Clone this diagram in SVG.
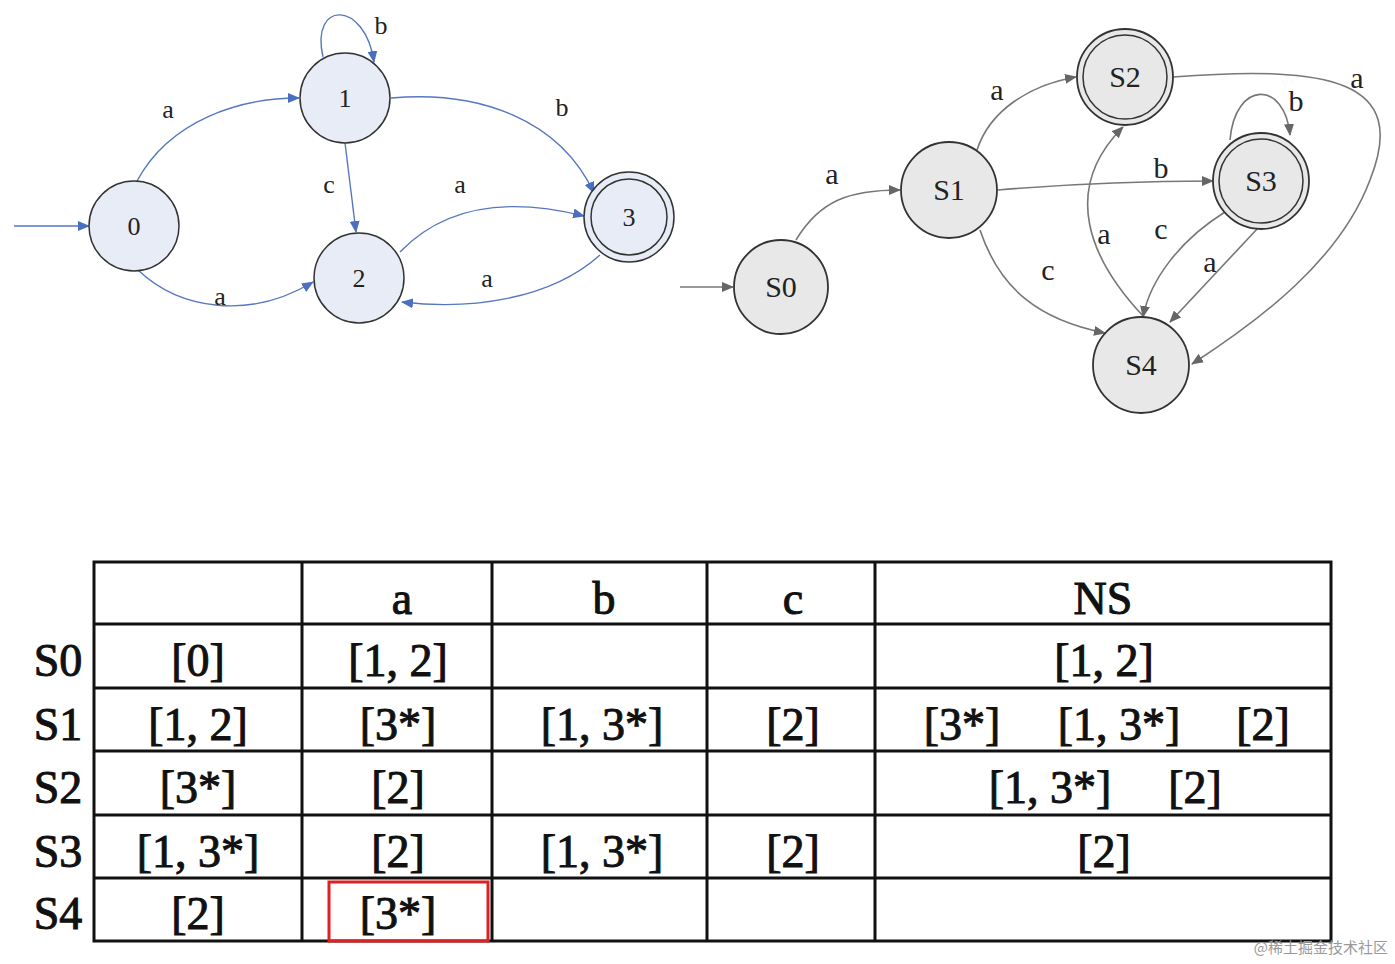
<svg xmlns="http://www.w3.org/2000/svg" width="1395" height="964" viewBox="0 0 1395 964">
<style>
.nb{fill:#e8ecf6;stroke:#333;stroke-width:1.5}
.ng{fill:#e8e8e8;stroke:#333;stroke-width:1.8}
.inner{fill:none;stroke:#333;stroke-width:1.5}
.eb{fill:none;stroke:#5577c0;stroke-width:1.4;marker-end:url(#ab)}
.eg{fill:none;stroke:#777;stroke-width:1.6;marker-end:url(#ag)}
text{font-family:"Liberation Serif","Times New Roman","DejaVu Serif",serif}
.lb{font-size:26px;fill:#222;text-anchor:middle}
.lg{font-size:30px;fill:#222;text-anchor:middle}
.t{font-size:46px;fill:#111;stroke:#111;stroke-width:1;text-anchor:middle}
.grid{stroke:#111;stroke-width:3;fill:none}
</style>
<defs>
<marker id="ab" markerWidth="12" markerHeight="10" refX="11" refY="5" orient="auto" markerUnits="userSpaceOnUse"><path d="M0,0 L12,5 L0,10 Z" fill="#4a6fc0"/></marker>
<marker id="ag" markerWidth="12" markerHeight="10" refX="11" refY="5" orient="auto" markerUnits="userSpaceOnUse"><path d="M0,0 L12,5 L0,10 Z" fill="#666"/></marker>
</defs>
<rect width="1395" height="964" fill="#fff"/>
<g id="connectors">
<path class="eb" d="M14,226 L89,226"/>
<path class="eb" d="M137,181 C170,120 240,98 299,98"/>
<path class="eb" d="M138,270 C180,310 250,320 313,282"/>
<path class="eb" d="M323,57 C310,0 365,0 374,62"/>
<path class="eb" d="M391,98 C480,90 560,120 594,193"/>
<path class="eb" d="M345,143 L356,232"/>
<path class="eb" d="M400,252 C450,200 520,200 584,216"/>
<path class="eb" d="M600,255 C550,300 470,310 402,302"/>
<path class="eg" d="M680,287 L733,287"/>
<path class="eg" d="M796,240 C820,200 850,190 900,190"/>
<path class="eg" d="M977,150 C990,110 1030,85 1076,77"/>
<path class="eg" d="M998,190 C1080,183 1150,181 1213,181"/>
<path class="eg" d="M980,230 C1000,290 1040,320 1105,333"/>
<path class="eg" d="M1144,317 C1090,260 1060,190 1123,127"/>
<path class="eg" d="M1230,140 C1235,80 1285,80 1290,135"/>
<path class="eg" d="M1225,212 C1180,240 1150,280 1143,317"/>
<path class="eg" d="M1258,228 L1170,322"/>
<path class="eg" d="M1173,77 C1330,65 1410,80 1370,180 C1340,260 1260,320 1192,364"/>
</g>
<g id="edge-labels">
<text class="lb" x="168" y="118">a</text>
<text class="lb" x="220" y="305">a</text>
<text class="lb" x="381" y="34">b</text>
<text class="lb" x="562" y="116">b</text>
<text class="lb" x="329" y="193">c</text>
<text class="lb" x="460" y="193">a</text>
<text class="lb" x="487" y="287">a</text>
<text class="lg" x="832" y="184">a</text>
<text class="lg" x="997" y="100">a</text>
<text class="lg" x="1161" y="178">b</text>
<text class="lg" x="1048" y="280">c</text>
<text class="lg" x="1104" y="244">a</text>
<text class="lg" x="1296" y="111">b</text>
<text class="lg" x="1161" y="239">c</text>
<text class="lg" x="1210" y="272">a</text>
<text class="lg" x="1357" y="88">a</text>
</g>
<g id="n0"><circle class="nb" cx="134" cy="226" r="45"/><text class="lb" x="134" y="235">0</text></g>
<g id="n1"><circle class="nb" cx="345" cy="98" r="45"/><text class="lb" x="345" y="107">1</text></g>
<g id="n2"><circle class="nb" cx="359" cy="278" r="45"/><text class="lb" x="359" y="287">2</text></g>
<g id="n3"><circle class="nb" cx="629" cy="217" r="45"/><circle class="inner" cx="629" cy="217" r="38"/><text class="lb" x="629" y="226">3</text></g>
<g id="S0"><circle class="ng" cx="781" cy="287" r="47"/><text class="lg" x="781" y="297">S0</text></g>
<g id="S1"><circle class="ng" cx="949" cy="190" r="48"/><text class="lg" x="949" y="200">S1</text></g>
<g id="S2"><circle class="ng" cx="1125" cy="77" r="48"/><circle class="inner" cx="1125" cy="77" r="42"/><text class="lg" x="1125" y="87">S2</text></g>
<g id="S3"><circle class="ng" cx="1261" cy="181" r="48"/><circle class="inner" cx="1261" cy="181" r="42"/><text class="lg" x="1261" y="191">S3</text></g>
<g id="S4"><circle class="ng" cx="1141" cy="365" r="48"/><text class="lg" x="1141" y="375">S4</text></g>
<g id="table">
<rect class="grid" x="94" y="562" width="1237" height="379"/>
<path class="grid" d="M302,562V941M492,562V941M707,562V941M875,562V941M94,624H1331M94,688H1331M94,751H1331M94,815H1331M94,878H1331"/>
<text class="t" x="402" y="614">a</text>
<text class="t" x="604" y="614">b</text>
<text class="t" x="793" y="614">c</text>
<text class="t" x="1103" y="614">NS</text>
<text class="t" x="58" y="676">S0</text>
<text class="t" x="58" y="740">S1</text>
<text class="t" x="58" y="803">S2</text>
<text class="t" x="58" y="867">S3</text>
<text class="t" x="58" y="929">S4</text>
<text class="t" x="198" y="676">[0]</text>
<text class="t" x="398" y="676">[1, 2]</text>
<text class="t" x="1104" y="676">[1, 2]</text>
<text class="t" x="198" y="740">[1, 2]</text>
<text class="t" x="398" y="740">[3*]</text>
<text class="t" x="602" y="740">[1, 3*]</text>
<text class="t" x="793" y="740">[2]</text>
<text class="t" x="962" y="740">[3*]</text>
<text class="t" x="1119" y="740">[1, 3*]</text>
<text class="t" x="1263" y="740">[2]</text>
<text class="t" x="198" y="803">[3*]</text>
<text class="t" x="398" y="803">[2]</text>
<text class="t" x="1050" y="803">[1, 3*]</text>
<text class="t" x="1195" y="803">[2]</text>
<text class="t" x="198" y="867">[1, 3*]</text>
<text class="t" x="398" y="867">[2]</text>
<text class="t" x="602" y="867">[1, 3*]</text>
<text class="t" x="793" y="867">[2]</text>
<text class="t" x="1104" y="867">[2]</text>
<text class="t" x="198" y="929">[2]</text>
<text class="t" x="398" y="929">[3*]</text>
<rect x="329" y="882" width="159" height="59" fill="none" stroke="#e02020" stroke-width="3"/>
</g>
<text x="1388" y="953" style="font-family:'Noto Sans CJK SC',sans-serif" font-size="15" fill="#999" text-anchor="end">@稀土掘金技术社区</text>
</svg>
